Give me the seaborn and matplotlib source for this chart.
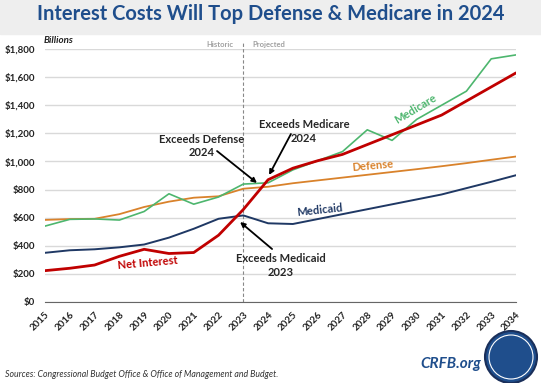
import pandas as pd
import matplotlib.pyplot as plt
import seaborn as sns
import numpy as np
from matplotlib.patches import Ellipse

# data (billions of dollars)
years = list(range(2015, 2035))
net_interest = [223, 240, 263, 325, 375, 345, 352, 475, 658, 870,
                952, 1005, 1050, 1120, 1190, 1260, 1330, 1430, 1530, 1630]
medicare = [540, 588, 591, 583, 644, 770, 696, 747, 839, 848,
            940, 1005, 1070, 1225, 1150, 1300, 1400, 1500, 1730, 1758]
defense = [584, 590, 592, 625, 676, 714, 742, 752, 806, 820,
           845, 865, 885, 905, 925, 945, 966, 988, 1012, 1035]
medicaid = [350, 368, 375, 389, 409, 458, 521, 592, 616, 560,
            555, 590, 625, 660, 695, 730, 765, 810, 855, 902]
y_ticks = list(range(0, 1801, 200))

df = pd.DataFrame({'year': years, 'Net Interest': net_interest, 'Medicare': medicare,
                   'Defense': defense, 'Medicaid': medicaid})
long = df.melt(id_vars='year', var_name='series', value_name='value')

sns.set_style('white')
plt.rcParams['font.family'] = ['Lato', 'DejaVu Sans']

colors = {'Medicaid': '#1F3864', 'Defense': '#D9822B',
          'Medicare': '#4DB66E', 'Net Interest': '#C00000'}
widths = {'Medicaid': 1.4, 'Defense': 1.3, 'Medicare': 1.2, 'Net Interest': 2.0}

W, H = 541, 383
fig = plt.figure(figsize=(W / 100, H / 100), dpi=100)
fig.patch.set_facecolor('white')
# light grey title band
fig.add_artist(plt.Rectangle((0, 0.91), 1, 0.09, transform=fig.transFigure,
                             color='#EEEEEE', zorder=0))
ax = fig.add_axes([45 / W, 1 - 302 / H, 471 / W, 253 / H])

for name in ['Medicaid', 'Defense', 'Medicare', 'Net Interest']:
    sub = long[long['series'] == name]
    sns.lineplot(data=sub, x='year', y='value', ax=ax, color=colors[name],
                 linewidth=widths[name], legend=False)

ax.set_xlim(2015, 2034)
ax.set_ylim(0, 1800)
ax.set_yticks(y_ticks)
ax.set_yticklabels([f'${v:,}' for v in y_ticks], fontsize=7, color='#222222')
ax.set_xticks(years)
ax.set_xticklabels([str(y) for y in years], rotation=45, fontsize=7,
                   color='#222222', ha='right', rotation_mode='anchor')
ax.tick_params(axis='y', length=0, pad=7)
ax.tick_params(axis='x', direction='out', length=3, color='#555555', pad=3)
ax.set_xlabel('')
ax.set_ylabel('')
for t in ax.get_yticklabels() + ax.get_xticklabels():
    t.set_fontweight('bold')
ax.yaxis.grid(True, color='#D9D9D9', linewidth=1)
ax.set_axisbelow(True)
for s in ['top', 'right', 'left']:
    ax.spines[s].set_visible(False)
ax.spines['bottom'].set_color('#666666')
ax.spines['bottom'].set_linewidth(0.8)

# historic / projected divider
ax.plot([2023, 2023], [0, 1860], ls=(0, (3, 2)), color='#888888', lw=0.8,
        clip_on=False, zorder=1)
ax.text(2022.6, 1830, 'Historic', ha='right', va='center', fontsize=5.5,
        color='#A0A0A0', fontweight='bold')
ax.text(2023.35, 1830, 'Projected', ha='left', va='center', fontsize=5.5,
        color='#A0A0A0', fontweight='bold')
ax.text(2014.95, 1860, 'Billions', ha='left', va='center', fontsize=7,
        fontstyle='italic', fontweight='bold', color='#222222')

# series labels
ax.text(2019.15, 277, 'Net Interest', color='#C00000', fontsize=8, fontweight='bold',
        rotation=5, ha='center', va='center')
ax.text(2029.95, 1373, 'Medicare', color='#4DB66E', fontsize=8, fontweight='bold',
        rotation=31, ha='center', va='center')
ax.text(2028.2, 967, 'Defense', color='#D9822B', fontsize=8, fontweight='bold',
        rotation=5, ha='center', va='center')
ax.text(2026.1, 656, 'Medicaid', color='#1F3864', fontsize=8, fontweight='bold',
        rotation=6, ha='center', va='center')

# annotations: text blocks plus arrows
ann = dict(ha='center', va='center', fontsize=8, fontweight='bold', linespacing=1.3)
ax.text(2021.33, 1109, 'Exceeds Defense\n2024', **ann)
ax.text(2025.45, 1213, 'Exceeds Medicare\n2024', **ann)
ax.text(2024.52, 262, 'Exceeds Medicaid\n2023', **ann)
arr = dict(arrowstyle='-|>', color='black', lw=1.3, mutation_scale=7,
           shrinkA=0, shrinkB=0)
ax.annotate('', xy=(2023.55, 847), xytext=(2021.94, 1074), arrowprops=arr)
ax.annotate('', xy=(2024.04, 904), xytext=(2024.92, 1195), arrowprops=arr)
ax.annotate('', xy=(2022.87, 569), xytext=(2024.16, 377), arrowprops=arr)

fig.text(0.5, 0.963, 'Interest Costs Will Top Defense & Medicare in 2024',
         ha='center', va='center', fontsize=14.5, fontweight='bold', color='#1F4E8C')
fig.text(0.01, 0.021, 'Sources: Congressional Budget Office & Office of Management and Budget.',
         ha='left', va='center', fontsize=6.3, fontstyle='italic', color='#333333')
fig.text(481 / W, 1 - 364 / H, 'CRFB.org', ha='right', va='center', fontsize=11,
         fontweight='bold', fontstyle='italic', color='#1F4E8C')

# logo badge
cx, cy, r = 511 / W, 1 - 357 / H, 26
fig.add_artist(Ellipse((cx, cy), 2 * r / W, 2 * r / H, transform=fig.transFigure,
                       facecolor='#1F4E8C', edgecolor='#1A2F5A', lw=1.5))
fig.add_artist(Ellipse((cx, cy), 2 * (r - 4) / W, 2 * (r - 4) / H,
                       transform=fig.transFigure, facecolor='none',
                       edgecolor='white', lw=0.8))

fig.savefig('out.png', dpi=100)
